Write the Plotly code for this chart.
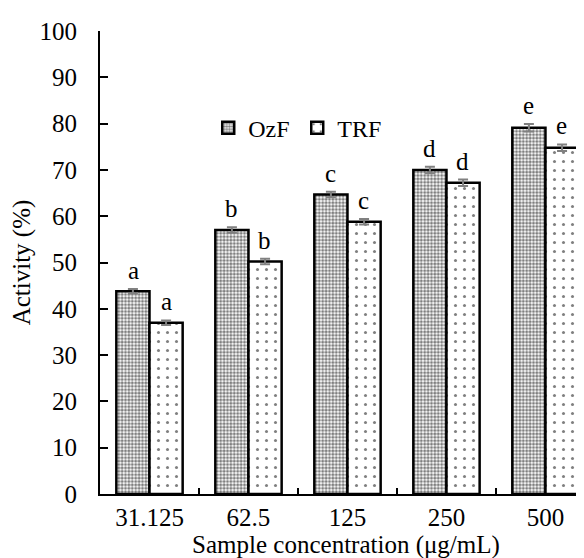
import plotly.graph_objects as go

categories = ["31.125", "62.5", "125", "250", "500"]
ozf_values = [43.8, 57.0, 64.7, 70.0, 79.1]
trf_values = [37.0, 50.2, 58.8, 67.2, 74.8]
ozf_err = [0.5, 0.6, 0.6, 0.7, 0.8]
trf_err = [0.5, 0.6, 0.6, 0.7, 0.7]
ozf_letters = ["a", "b", "c", "d", "e"]
trf_letters = ["a", "b", "c", "d", "e"]
y_ticks = [0, 10, 20, 30, 40, 50, 60, 70, 80, 90, 100]

FONT = "Liberation Serif, Times New Roman, serif"
FS = 25

fig = go.Figure()
fig.add_trace(go.Bar(
    name="OzF", x=categories, y=ozf_values,
    error_y=dict(type="data", array=ozf_err, color="#808080", thickness=2, width=5),
    marker=dict(color="white", line=dict(color="black", width=2.5),
                pattern=dict(shape=".", size=3.4, solidity=0.6, fgcolor="black", bgcolor="white")),
))
fig.add_trace(go.Bar(
    name="TRF", x=categories, y=trf_values,
    error_y=dict(type="data", array=trf_err, color="#808080", thickness=2, width=5),
    marker=dict(color="white", line=dict(color="black", width=2.5),
                pattern=dict(shape=".", size=9, solidity=0.09, fgcolor="black", bgcolor="white")),
))

annotations = []
for i in range(len(categories)):
    annotations.append(dict(x=i, y=ozf_values[i] + ozf_err[i] + 4.0, xref="x", yref="y",
                            text=ozf_letters[i], showarrow=False, xshift=-16.5,
                            font=dict(family=FONT, size=FS, color="black")))
    annotations.append(dict(x=i, y=trf_values[i] + trf_err[i] + 4.0, xref="x", yref="y",
                            text=trf_letters[i], showarrow=False, xshift=16.5,
                            font=dict(family=FONT, size=FS, color="black")))

fig.update_layout(
    width=584, height=558,
    margin=dict(l=92, r=0, t=23, b=72),
    paper_bgcolor="white", plot_bgcolor="white",
    barmode="group", bargap=0.33, bargroupgap=0,
    font=dict(family=FONT, size=FS, color="black"),
    showlegend=True,
    legend=dict(orientation="h", x=0.22, y=0.79, xanchor="left", yanchor="middle",
                bgcolor="rgba(0,0,0,0)", font=dict(family=FONT, size=24),
                itemwidth=30, entrywidth=44, traceorder="normal"),
    annotations=annotations,
    xaxis=dict(
        type="category", range=[-0.5, 4.47],
        showline=True, linecolor="black", linewidth=2,
        ticks="inside", tickson="boundaries", ticklen=6, tickwidth=2, tickcolor="black",
        showgrid=False, zeroline=False,
        ticklabelstandoff=0,
        tickfont=dict(family=FONT, size=FS),
        title=dict(text="Sample concentration (μg/mL)", font=dict(family=FONT, size=FS), standoff=0),
    ),
    yaxis=dict(
        range=[0, 100], tickvals=y_ticks,
        showline=True, linecolor="black", linewidth=2,
        ticks="inside", ticklen=8, tickwidth=2, tickcolor="black",
        showgrid=False, zeroline=False,
        ticklabelstandoff=16,
        tickfont=dict(family=FONT, size=FS),
        title=dict(text="Activity (%)", font=dict(family=FONT, size=FS), standoff=4),
    ),
)

fig.write_html("out.html")
